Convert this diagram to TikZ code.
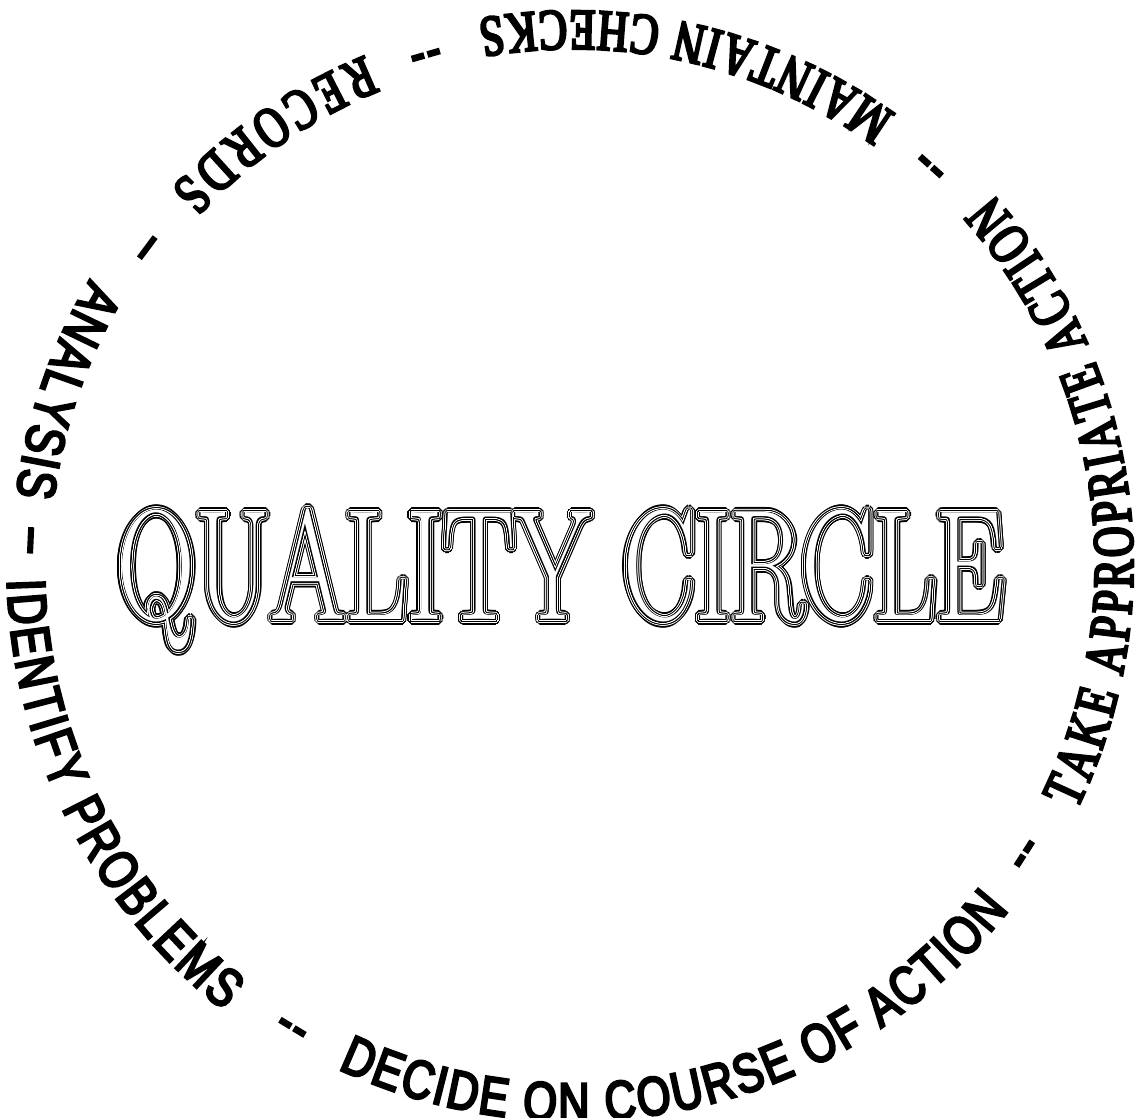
\documentclass[tikz,border=0pt]{standalone}
\usepackage{fontspec}
\usetikzlibrary{decorations.text}
\newfontfamily\ringsansfam[FakeStretch=0.79, FakeBold=4.5]{Liberation Sans}
\newfontfamily\ringseriffam[FakeStretch=0.73, FakeBold=4.5]{Liberation Serif}
\newfontfamily\titlefam[FakeStretch=0.69]{Latin Modern Roman}
\newcommand\ringsans{\ringsansfam\fontsize{54.5}{60}\selectfont}
\newcommand\ringserif{\ringseriffam\fontsize{57.7}{62}\selectfont}
\newcommand\qctitlefont{\titlefam\fontsize{156.7}{160}\selectfont}
\tikzset{
  qctitle/.style={font=\qctitlefont, inner sep=0pt, anchor=base},
  ringdash/.style={font=\ringsans, inner sep=0pt},
  ringtext/.style={decorate, decoration={text along path, text={#1}, text align={fit to path}}}
}
\begin{document}
\begin{tikzpicture}[x=1pt, y=1pt]
\useasboundingbox (0,0) rectangle (1137,1118);
\fill[white] (0,0) rectangle (1137,1118);
\coordinate (c) at (573,553);
\coordinate (tc) at (561,498);

% ---- ring phrases (counter-clockwise, tops toward the centre)
\path[ringtext={|\ringsans|IDENTIFY PROBLEMS}]
  ([shift={(c)}]181.5:566pt) arc[start angle=181.5, end angle=231.9, radius=566pt];
\path[ringtext={|\ringsans|DECIDE ON COURSE OF ACTION}]
  ([shift={(c)}]245.0:556pt) arc[start angle=245.0, end angle=321.6, radius=556pt];
\path[ringtext={|\ringserif|TAKE APPROPRIATE ACTION}]
  ([shift={(c)}]334.1:560pt) arc[start angle=334.1, end angle=401.4, radius=560pt];
\path[ringtext={|\ringserif|MAINTAIN CHECKS}]
  ([shift={(c)}]54.4:554pt) arc[start angle=54.4, end angle=99.9, radius=554pt];
\path[ringtext={|\ringserif|RECORDS}]
  ([shift={(c)}]112.2:550pt) arc[start angle=112.2, end angle=137.0, radius=550pt];
\path[ringtext={|\ringsans|ANALYSIS}]
  ([shift={(c)}]149.4:561pt) arc[start angle=149.4, end angle=172.9, radius=561pt];

% ---- separators
\node[ringdash, rotate=328.75] (d1) at ([shift={(c)}]238.75:547pt) {-\kern2pt-};
\node[ringdash, rotate=57.4]   (d2) at ([shift={(c)}]327.4:542pt) {-\kern2pt-};
\node[ringdash, rotate=138.1]  (d3) at ([shift={(c)}]48.1:542pt) {-\kern2pt-};
\node[ringdash, rotate=196.1]  (d4) at ([shift={(c)}]106.1:537pt) {-\kern2pt-};
\node[ringdash, rotate=233.3]  (d5) at ([shift={(c)}]143.3:537pt) {–};
\node[ringdash, rotate=267.4]  (d6) at ([shift={(c)}]177.4:549pt) {–};

% ---- engraved-style title: layered outlines (inline effect)
\foreach \r/\col in {5.2/black, 3.9/white, 2.9/black, 1.9/white, 0.9/black}{
  \foreach \a in {0,15,...,345}{
    \node[qctitle, text=\col] at ([shift={(\a:\r)}]tc) {QUALITY CIRCLE};
  }
}
\node[qctitle, text=white] (title) at (tc) {QUALITY CIRCLE};
\end{tikzpicture}
\end{document}
